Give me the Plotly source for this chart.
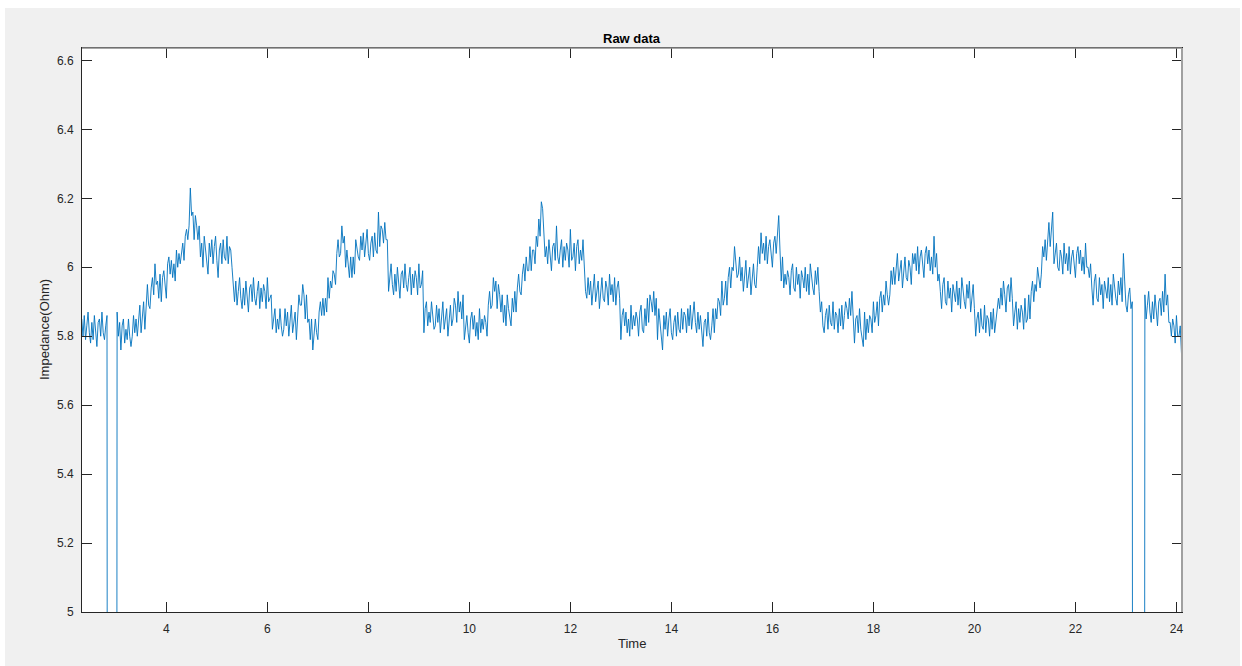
import numpy as np
import plotly.graph_objects as go

# Sampling grid (time) and impedance values
t_start = 2.325
t_step = 0.025

impedance = [
    # 2.325 - 3.300
    5.85, 5.80, 5.86, 5.79, 5.83, 5.87, 5.81, 5.78, 5.84, 5.79, 5.86, 5.82, 5.77, 5.84, 5.85, 5.80, 5.87, 5.81, 5.79, 5.83,
    5.86, 0, 0, 0, 0, 0, 0, 0, 5.87, 5.80, 5.84, 5.76, 5.83, 5.85, 5.78, 5.82, 5.79, 5.85, 5.80, 5.77,
    # 3.325 - 4.300
    5.80, 5.86, 5.81, 5.85, 5.80, 5.86, 5.89, 5.81, 5.87, 5.90, 5.82, 5.88, 5.95, 5.89, 5.88, 5.94, 5.97, 5.92, 6.01, 5.95,
    5.96, 5.91, 5.98, 5.90, 5.97, 5.99, 5.94, 5.91, 6.01, 6.03, 5.98, 6.02, 5.97, 6.01, 5.96, 6.05, 6.00, 6.04, 6.01, 6.05,
    # 4.325 - 5.300
    6.07, 6.02, 6.09, 6.11, 6.08, 6.12, 6.23, 6.15, 6.16, 6.08, 6.15, 6.12, 6.08, 6.12, 6.03, 6.07, 6.00, 6.09, 6.05, 6.02,
    5.98, 6.07, 6.03, 6.08, 6.01, 6.06, 6.09, 6.02, 5.97, 6.05, 6.07, 6.01, 6.08, 6.03, 6.02, 6.09, 6.01, 6.06, 6.05, 6.00,
    # 5.325 - 6.300
    5.95, 5.90, 5.96, 5.89, 5.93, 5.97, 5.91, 5.88, 5.94, 5.89, 5.96, 5.92, 5.87, 5.94, 5.95, 5.90, 5.97, 5.91, 5.89, 5.93,
    5.96, 5.88, 5.94, 5.90, 5.95, 5.93, 5.88, 5.97, 5.90, 5.91, 5.92, 5.82, 5.86, 5.88, 5.81, 5.85, 5.82, 5.88, 5.83, 5.80,
    # 6.325 - 7.300
    5.82, 5.88, 5.83, 5.87, 5.80, 5.86, 5.89, 5.81, 5.84, 5.87, 5.79, 5.85, 5.92, 5.89, 5.89, 5.95, 5.92, 5.85, 5.92, 5.84,
    5.85, 5.79, 5.85, 5.76, 5.82, 5.85, 5.81, 5.79, 5.87, 5.90, 5.86, 5.91, 5.86, 5.91, 5.87, 5.97, 5.91, 5.96, 5.94, 5.99,
    # 7.325 - 8.300
    5.98, 5.95, 6.04, 6.08, 6.03, 6.04, 6.12, 6.07, 6.09, 6.00, 6.05, 6.01, 5.97, 6.03, 5.97, 6.03, 5.98, 6.08, 6.05, 6.03,
    6.02, 6.09, 6.05, 6.10, 6.03, 6.08, 6.11, 6.04, 6.02, 6.07, 6.09, 6.03, 6.10, 6.05, 6.04, 6.16, 6.06, 6.12, 6.11, 6.07,
    # 8.325 - 9.300
    6.13, 6.08, 6.08, 5.93, 5.97, 6.01, 5.95, 5.92, 5.98, 5.93, 6.00, 5.96, 5.91, 5.98, 5.99, 5.94, 6.01, 5.95, 5.93, 5.97,
    6.00, 5.92, 5.98, 5.94, 5.99, 5.97, 5.92, 6.01, 5.94, 5.95, 5.99, 5.81, 5.88, 5.90, 5.83, 5.87, 5.84, 5.90, 5.85, 5.82,
    # 9.325 - 10.300
    5.83, 5.89, 5.84, 5.88, 5.81, 5.87, 5.90, 5.82, 5.85, 5.88, 5.80, 5.86, 5.89, 5.83, 5.85, 5.91, 5.89, 5.84, 5.93, 5.87,
    5.90, 5.85, 5.92, 5.79, 5.84, 5.86, 5.81, 5.78, 5.85, 5.87, 5.82, 5.86, 5.80, 5.84, 5.79, 5.88, 5.81, 5.85, 5.82, 5.86,
    # 10.325 - 11.300
    5.84, 5.80, 5.89, 5.93, 5.88, 5.89, 5.97, 5.93, 5.96, 5.88, 5.95, 5.92, 5.87, 5.92, 5.84, 5.89, 5.83, 5.92, 5.88, 5.85,
    5.83, 5.91, 5.87, 5.93, 5.87, 5.94, 5.98, 5.93, 5.92, 5.98, 6.01, 5.96, 6.03, 5.99, 5.99, 6.06, 5.99, 6.05, 6.05, 6.01,
    # 11.325 - 12.300
    6.09, 6.06, 6.14, 6.09, 6.19, 6.17, 6.08, 6.03, 6.06, 6.01, 6.08, 6.04, 5.99, 6.06, 6.07, 6.02, 6.12, 6.03, 6.01, 6.05,
    6.08, 6.00, 6.06, 6.02, 6.07, 6.05, 6.00, 6.11, 6.02, 6.03, 6.07, 5.99, 6.06, 6.08, 6.01, 6.05, 6.02, 6.08, 5.99, 5.93,
    # 12.325 - 13.300
    5.91, 5.97, 5.92, 5.96, 5.89, 5.95, 5.98, 5.90, 5.93, 5.96, 5.88, 5.94, 5.97, 5.91, 5.90, 5.96, 5.94, 5.89, 5.98, 5.92,
    5.95, 5.90, 5.97, 5.89, 5.94, 5.96, 5.91, 5.79, 5.86, 5.88, 5.83, 5.87, 5.81, 5.85, 5.80, 5.89, 5.82, 5.86, 5.83, 5.87,
    # 13.325 - 14.300
    5.85, 5.80, 5.87, 5.89, 5.82, 5.81, 5.88, 5.83, 5.91, 5.84, 5.92, 5.90, 5.87, 5.93, 5.86, 5.91, 5.79, 5.88, 5.84, 5.81,
    5.76, 5.86, 5.82, 5.87, 5.80, 5.85, 5.88, 5.81, 5.79, 5.84, 5.86, 5.80, 5.87, 5.82, 5.81, 5.88, 5.82, 5.87, 5.86, 5.81,
    # 14.325 - 15.300
    5.88, 5.83, 5.89, 5.82, 5.86, 5.90, 5.84, 5.81, 5.87, 5.82, 5.86, 5.82, 5.77, 5.84, 5.85, 5.80, 5.87, 5.81, 5.79, 5.83,
    5.88, 5.81, 5.88, 5.85, 5.91, 5.90, 5.86, 5.96, 5.89, 5.91, 5.96, 5.89, 5.97, 6.00, 5.94, 6.00, 5.99, 6.06, 6.01, 5.97,
    # 15.325 - 16.300
    5.98, 6.03, 5.96, 6.00, 5.93, 5.99, 6.02, 5.94, 5.97, 6.00, 5.92, 5.98, 6.01, 5.95, 5.94, 6.00, 6.06, 6.01, 6.10, 6.04,
    6.07, 6.02, 6.09, 6.01, 6.06, 6.08, 6.03, 6.00, 6.07, 6.09, 6.04, 6.11, 6.15, 6.05, 5.96, 6.03, 5.94, 5.98, 5.95, 5.99,
    # 16.325 - 17.300
    5.97, 5.92, 5.99, 6.01, 5.94, 5.93, 6.00, 5.95, 5.98, 5.91, 5.99, 5.97, 5.94, 6.00, 5.93, 5.98, 5.92, 6.01, 5.97, 5.94,
    5.92, 5.99, 5.95, 6.00, 5.93, 5.87, 5.90, 5.83, 5.81, 5.86, 5.88, 5.82, 5.89, 5.84, 5.83, 5.90, 5.82, 5.87, 5.86, 5.81,
    # 17.325 - 18.300
    5.88, 5.83, 5.89, 5.82, 5.86, 5.90, 5.88, 5.85, 5.91, 5.86, 5.93, 5.83, 5.78, 5.85, 5.86, 5.81, 5.88, 5.82, 5.80, 5.77,
    5.87, 5.79, 5.85, 5.81, 5.86, 5.85, 5.81, 5.90, 5.84, 5.86, 5.90, 5.83, 5.91, 5.93, 5.87, 5.92, 5.89, 5.96, 5.92, 5.89,
    # 18.325 - 19.300
    5.92, 5.99, 5.95, 6.00, 5.95, 6.01, 6.04, 5.96, 5.99, 6.02, 5.94, 6.00, 6.03, 5.97, 5.96, 6.02, 6.00, 5.95, 6.04, 6.01,
    6.04, 5.99, 6.06, 5.98, 6.03, 6.05, 6.00, 5.97, 6.04, 6.06, 6.01, 6.05, 5.99, 6.03, 5.98, 6.09, 6.00, 6.04, 5.96, 5.98,
    # 19.325 - 20.300
    5.93, 5.88, 5.95, 5.97, 5.90, 5.89, 5.96, 5.91, 5.94, 5.87, 5.95, 5.93, 5.90, 5.96, 5.89, 5.94, 5.88, 5.97, 5.93, 5.90,
    5.88, 5.95, 5.91, 5.96, 5.87, 5.92, 5.95, 5.88, 5.80, 5.85, 5.87, 5.81, 5.88, 5.83, 5.82, 5.89, 5.81, 5.86, 5.85, 5.80,
    # 20.325 - 21.300
    5.87, 5.82, 5.88, 5.81, 5.85, 5.89, 5.91, 5.88, 5.94, 5.89, 5.96, 5.92, 5.87, 5.94, 5.95, 5.90, 5.97, 5.91, 5.83, 5.87,
    5.90, 5.82, 5.88, 5.84, 5.89, 5.87, 5.82, 5.91, 5.84, 5.85, 5.92, 5.85, 5.93, 5.96, 5.90, 5.95, 5.93, 6.00, 5.96, 5.94,
    # 21.325 - 22.300
    5.98, 6.06, 6.03, 6.08, 6.02, 6.09, 6.13, 6.06, 6.10, 6.16, 6.01, 6.05, 6.07, 6.00, 5.99, 6.05, 6.03, 5.98, 6.07, 6.01,
    6.04, 5.99, 6.06, 5.98, 6.03, 6.05, 6.00, 5.97, 6.04, 6.06, 6.01, 6.05, 5.99, 6.03, 5.98, 6.07, 6.00, 6.00, 5.97, 6.01,
    # 22.325 - 23.300
    5.94, 5.89, 5.96, 5.98, 5.91, 5.90, 5.97, 5.92, 5.95, 5.88, 5.96, 5.94, 5.91, 5.97, 5.90, 5.95, 5.89, 5.98, 5.94, 5.91,
    5.89, 5.96, 5.92, 5.97, 5.90, 6.04, 5.96, 5.89, 5.87, 5.92, 5.94, 5.88, 5.90, 0, 0, 0, 0, 0, 0, 0,
    # 23.325 - 24.125
    0, 0, 5.92, 5.85, 5.89, 5.93, 5.87, 5.84, 5.90, 5.85, 5.92, 5.88, 5.83, 5.90, 5.91, 5.86, 5.93, 5.87, 5.98, 5.89,
    5.92, 5.84, 5.84, 5.80, 5.85, 5.83, 5.78, 5.86, 5.80, 5.80, 5.83, 5.75, 5.80,
]

time = np.round(t_start + t_step * np.arange(len(impedance)), 4)

x_ticks = [4, 6, 8, 10, 12, 14, 16, 18, 20, 22, 24]
y_ticks = [5, 5.2, 5.4, 5.6, 5.8, 6, 6.2, 6.4, 6.6]
y_tick_text = ["5", "5.2", "5.4", "5.6", "5.8", "6", "6.2", "6.4", "6.6"]

W, H = 1242, 666
L, R, T, B = 82, 60, 48, 54
pw, ph = W - L - R, H - T - B

def px_x(px):
    return (px - L) / pw

def px_y(py):
    return (H - B - py) / ph

axis_col = "#262626"
font_fam = "Liberation Sans, Arial, Helvetica, sans-serif"

fig = go.Figure()
fig.add_trace(go.Scatter(
    x=time, y=impedance, mode="lines",
    line=dict(color="#0072BD", width=0.9),
    hoverinfo="x+y", showlegend=False,
))

common = dict(
    showgrid=False, zeroline=False, showline=True, linecolor=axis_col, linewidth=1,
    mirror="ticks", ticks="inside", ticklen=10, tickcolor=axis_col, tickwidth=1,
    tickfont=dict(family=font_fam, size=12, color=axis_col),
)

fig.update_layout(
    width=W, height=H,
    margin=dict(l=L, r=R, t=T, b=B, autoexpand=False),
    paper_bgcolor="white", plot_bgcolor="white",
    xaxis=dict(range=[2.33, 24.11], tickvals=x_ticks, ticklabelstandoff=6, **common),
    yaxis=dict(range=[5, 6.636], tickvals=y_ticks, ticktext=y_tick_text,
               ticklabelstandoff=5, **common),
    shapes=[
        dict(type="rect", xref="paper", yref="paper", layer="below",
             x0=px_x(5), x1=px_x(1240), y0=px_y(666), y1=px_y(8),
             fillcolor="#f0f0f0", line=dict(width=0)),
        dict(type="rect", xref="paper", yref="paper", layer="below",
             x0=0, x1=1, y0=0, y1=1, fillcolor="white", line=dict(width=0)),
        dict(type="line", xref="paper", yref="paper", layer="above",
             x0=0, x1=1, y0=1, y1=1, line=dict(color="#8a8a8a", width=1.5)),
        dict(type="line", xref="paper", yref="paper", layer="above",
             x0=1, x1=1, y0=0, y1=1, line=dict(color="#a0a0a0", width=2)),
    ],
    annotations=[
        dict(text="<b>Raw data</b>", xref="paper", yref="paper", x=0.5, y=px_y(38.5),
             xanchor="center", yanchor="middle", showarrow=False,
             font=dict(family=font_fam, size=13, color="#000000")),
        dict(text="Time", xref="paper", yref="paper", x=0.5, y=px_y(643),
             xanchor="center", yanchor="middle", showarrow=False,
             font=dict(family=font_fam, size=13, color=axis_col)),
        dict(text="Impedance(Ohm)", xref="paper", yref="paper", x=px_x(44), y=px_y(330),
             xanchor="center", yanchor="middle", textangle=-90, showarrow=False,
             font=dict(family=font_fam, size=13, color=axis_col)),
    ],
)

fig.write_html("out.html", config={"displayModeBar": False},
               post_script="document.body.style.margin='0px';")
